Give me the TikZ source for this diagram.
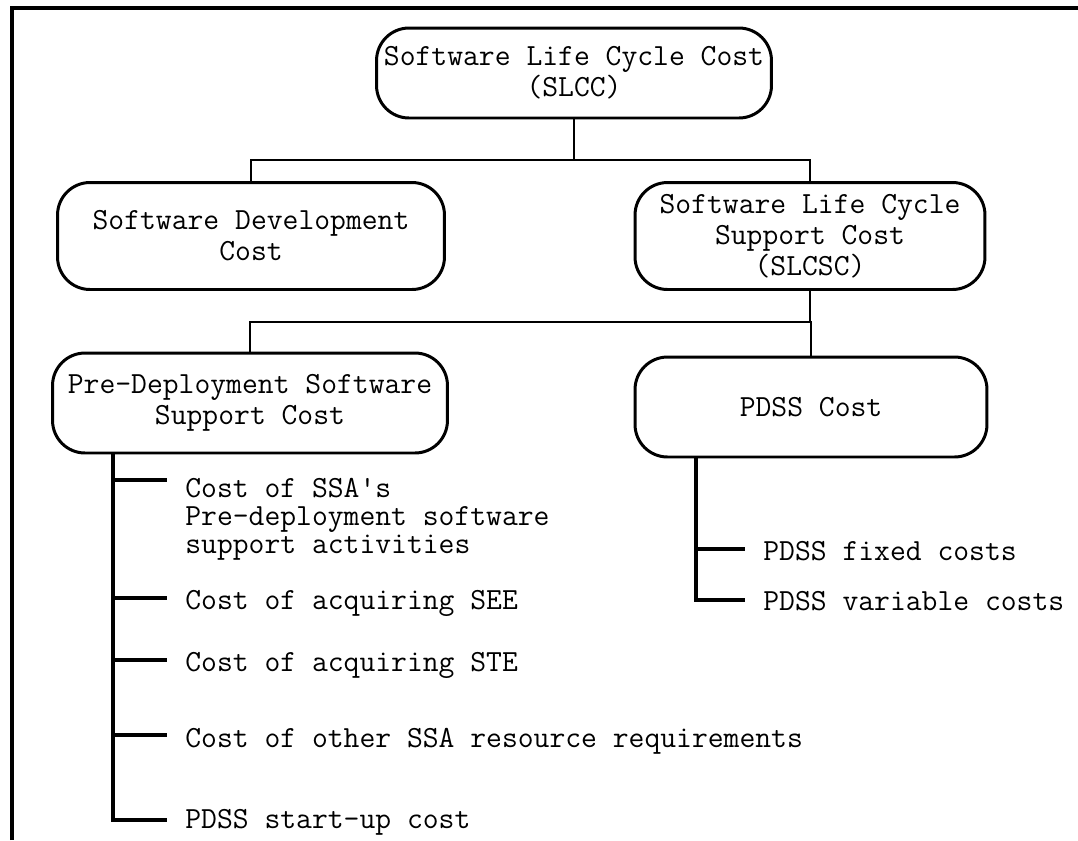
\documentclass[tikz,border=0pt]{standalone}
\usepackage{fontspec}
\usepackage{tikz}

\tikzset{
    costbox/.style={draw, line width=1.7pt, rounded corners=0.65cm, align=center,
        font=\ttfamily\fontsize{17.5}{17.6}\selectfont, inner sep=0pt},
    leaf/.style={anchor=west, align=left, inner xsep=0.36cm, inner ysep=0pt,
        font=\ttfamily\fontsize{17.5}{16}\selectfont},
    link/.style={line width=1.4pt},
    trunk/.style={line width=2.4pt}
}

\begin{document}
\begin{tikzpicture}[x=0.02cm, y=-0.02cm]
    \useasboundingbox (0,0) rectangle (1078,840);

    % 外框
    \draw[line width=2.2pt] (12,840) -- (12,8) -- (1078,8);

    % 费用方框
    \node[costbox, minimum width=7.9cm, minimum height=1.8cm] (slcc) at (574,73)
        {Software Life Cycle Cost\\(SLCC)};
    \node[costbox, minimum width=7.74cm, minimum height=2.14cm] (sdc) at (251,236)
        {Software Development\\Cost};
    \node[costbox, minimum width=7.0cm, minimum height=2.14cm] (slcsc) at (810,236)
        {Software Life Cycle\\Support Cost\\(SLCSC)};
    \node[costbox, minimum width=7.9cm, minimum height=2.0cm] (pdsc) at (250,403)
        {Pre-Deployment Software\\Support Cost};
    \node[costbox, minimum width=7.04cm, minimum height=2.0cm] (pdss) at (811,407)
        {PDSS Cost};

    % 连接线
    \coordinate (j1) at (0,160);
    \coordinate (j2) at (0,322);
    \draw[link] (slcc.south) -- (slcc.south |- j1);
    \draw[link] (sdc.north) |- (slcsc.north |- j1) -- (slcsc.north);
    \draw[link] (slcsc.south) -- (slcsc.south |- j2);
    \draw[link] (pdsc.north) |- (pdss.north |- j2) -- (pdss.north);

    % 左侧分项
    \node[leaf, anchor=north west] (ssa) at (167,478)
        {Cost of SSA's\\Pre-deployment software\\support activities};
    \node[leaf] (see) at (167,603) {Cost of acquiring SEE};
    \node[leaf] (ste) at (167,665) {Cost of acquiring STE};
    \node[leaf] (other) at (167,741) {Cost of other SSA resource requirements};
    \node[leaf] (startup) at (167,822) {PDSS start-up cost};

    \coordinate (t1) at (113,480);
    \coordinate (t2) at (113,598);
    \coordinate (t3) at (113,660);
    \coordinate (t4) at (113,735);
    \coordinate (t5) at (113,820);
    \draw[trunk] (pdsc.south -| t5) -- (t5) -- (t5 -| startup.west);
    \draw[trunk] (t1) -- (t1 -| ssa.west);
    \draw[trunk] (t2) -- (t2 -| see.west);
    \draw[trunk] (t3) -- (t3 -| ste.west);
    \draw[trunk] (t4) -- (t4 -| other.west);

    % 右侧分项
    \node[leaf] (fixed) at (745,551) {PDSS fixed costs};
    \node[leaf] (variable) at (745,601) {PDSS variable costs};

    \coordinate (r1) at (696,549);
    \coordinate (r2) at (696,600);
    \draw[trunk] (pdss.south -| r2) -- (r2) -- (r2 -| variable.west);
    \draw[trunk] (r1) -- (r1 -| fixed.west);
\end{tikzpicture}
\end{document}
